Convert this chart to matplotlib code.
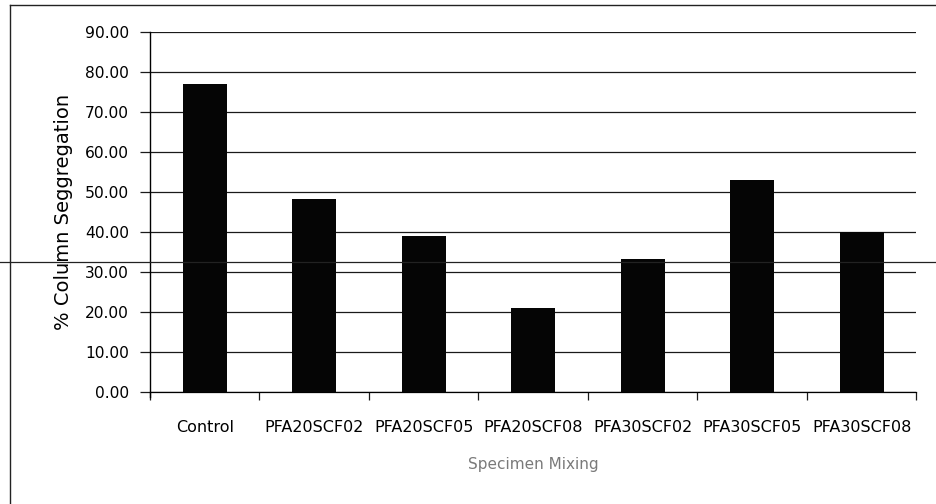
import matplotlib
matplotlib.use("Agg")
import matplotlib.pyplot as plt
from matplotlib.lines import Line2D

categories = ["Control", "PFA20SCF02", "PFA20SCF05", "PFA20SCF08",
              "PFA30SCF02", "PFA30SCF05", "PFA30SCF08"]
segregation = [77.1, 48.4, 39.2, 21.2, 33.4, 53.2, 40.0]
y_ticks = [0, 10, 20, 30, 40, 50, 60, 70, 80, 90]

plt.rcParams["font.family"] = ["DejaVu Sans"]

fig = plt.figure(figsize=(9.37, 5.04), dpi=100)
ax = fig.add_axes([150 / 937, 1 - 392.3 / 504, 766.5 / 937, 360 / 504])

x = list(range(len(categories)))
ax.bar(x, segregation, width=0.4, color="#050505", zorder=3)

ax.set_xlim(-0.5, len(categories) - 0.5)
ax.set_ylim(0, 90)
ax.set_yticks(y_ticks)
ax.set_yticklabels([f"{v:.2f}" for v in y_ticks], fontsize=11.2)
ax.grid(axis="y", color="#1a1a1a", linewidth=0.9, zorder=0)

# category labels centred, tick marks on category boundaries
ax.set_xticks(x)
ax.set_xticklabels(categories, fontsize=11.5)
ax.tick_params(axis="x", length=0, pad=20)
ax.set_xticks([i - 0.5 for i in range(len(categories) + 1)], minor=True)
ax.tick_params(axis="x", which="minor", length=6, width=0.9, color="#1a1a1a")
ax.tick_params(axis="y", length=7, width=0.9, color="#1a1a1a", pad=8)

for side in ("top", "right"):
    ax.spines[side].set_visible(False)
ax.spines["left"].set_linewidth(1.0)
ax.spines["left"].set_bounds(-1.2, 90)
ax.spines["bottom"].set_linewidth(0.9)

ax.set_ylabel("% Column Seggregation", fontsize=14, labelpad=9)
ax.set_xlabel("Specimen Mixing", fontsize=11, color="#7a7a7a", labelpad=16)

# surrounding frame lines of the chart area
fig.add_artist(Line2D([10 / 937, 10 / 937], [0, 1 - 5 / 504],
                      transform=fig.transFigure, color="#222222", linewidth=1.0))
fig.add_artist(Line2D([10 / 937, 1], [1 - 5 / 504, 1 - 5 / 504],
                      transform=fig.transFigure, color="#222222", linewidth=1.0))
fig.add_artist(Line2D([0, 1], [1 - 262 / 504, 1 - 262 / 504],
                      transform=fig.transFigure, color="#222222", linewidth=0.9))

fig.savefig("out.png", dpi=100)
